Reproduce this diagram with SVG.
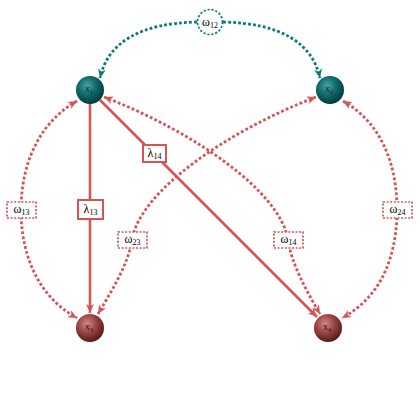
<svg xmlns="http://www.w3.org/2000/svg" width="420" height="420" viewBox="0 0 420 420">
<defs>
<radialGradient id="gT" cx="0.4" cy="0.35" r="0.65">
<stop offset="0" stop-color="#4aa3a3"/><stop offset="0.5" stop-color="#0f6a6a"/><stop offset="1" stop-color="#023c3c"/>
</radialGradient>
<radialGradient id="gR" cx="0.4" cy="0.35" r="0.65">
<stop offset="0" stop-color="#d08a8a"/><stop offset="0.5" stop-color="#9c4545"/><stop offset="1" stop-color="#5a1a1a"/>
</radialGradient>
<marker id="aR" markerUnits="userSpaceOnUse" markerWidth="12" markerHeight="10" refX="9" refY="4" orient="auto-start-reverse" viewBox="0 0 12 10">
<path d="M0,0 L9,4 L0,8 L2.5,4 z" fill="#d35555"/>
</marker>
<marker id="aT" markerUnits="userSpaceOnUse" markerWidth="12" markerHeight="10" refX="9" refY="4" orient="auto-start-reverse" viewBox="0 0 12 10">
<path d="M0,0 L9,4 L0,8 L2.5,4 z" fill="#0a7a7a"/>
</marker>
</defs>
<style>
.dr{fill:none;stroke:#d35555;stroke-width:2.8;stroke-dasharray:2.8 2.2}
.dt{fill:none;stroke:#0a7a7a;stroke-width:2.8;stroke-dasharray:2.8 2.2}
.sr{fill:none;stroke:#d35555;stroke-width:2.6}
.lb{fill:#fff;stroke:#d35555;stroke-width:1.7;stroke-dasharray:2 1.6}
.ls{fill:#fff;stroke:#d35555;stroke-width:2}
.lc{fill:#fff;stroke:#0a7a7a;stroke-width:1.7;stroke-dasharray:2.2 1.8}
.t{font-family:"Liberation Serif","DejaVu Serif",serif;fill:#000;text-anchor:middle}
.tl{font-size:12px}
.tn{font-size:10px;fill:#0b1c1c}
</style>
<g id="connectors">
<path class="dt" d="M197,22 Q112,24 100,78" marker-end="url(#aT)"/>
<path class="dt" d="M223,22 Q308,24 320,78" marker-end="url(#aT)"/>
<path class="dr" d="M77,101 C35,125 21,170 21,210 C21,250 35,295 77,318" marker-start="url(#aR)" marker-end="url(#aR)"/>
<path class="dr" d="M343,101 C385,125 397,170 397,210 C397,250 385,295 342,318" marker-start="url(#aR)" marker-end="url(#aR)"/>
<path class="dr" d="M316,97 C230,130 140,190 132,240 C128,265 112,290 98,314" marker-start="url(#aR)" marker-end="url(#aR)"/>
<path class="dr" d="M104,97 C190,130 280,190 288,240 C292,265 306,290 320,314" marker-start="url(#aR)" marker-end="url(#aR)"/>
<path class="sr" d="M90,104 L90,313" marker-end="url(#aR)"/>
<path class="sr" d="M100,100 L317,317" marker-end="url(#aR)"/>
</g>
<g id="w12"><circle class="lc" cx="210" cy="22" r="12.5"/><text class="t tl" x="210" y="26">ω<tspan font-size="8" dy="2">12</tspan></text></g>
<g id="w13"><rect class="lb" x="7" y="202" width="29" height="16"/><text class="t tl" x="21.5" y="213">ω<tspan font-size="8" dy="2">13</tspan></text></g>
<g id="w24"><rect class="lb" x="383" y="202" width="29" height="16"/><text class="t tl" x="397.5" y="213">ω<tspan font-size="8" dy="2">24</tspan></text></g>
<g id="w23"><rect class="lb" x="118" y="232" width="29" height="16"/><text class="t tl" x="132.5" y="243">ω<tspan font-size="8" dy="2">23</tspan></text></g>
<g id="w14"><rect class="lb" x="274" y="232" width="29" height="16"/><text class="t tl" x="288.5" y="243">ω<tspan font-size="8" dy="2">14</tspan></text></g>
<g id="l13"><rect class="ls" x="78" y="200" width="25" height="19"/><text class="t tl" x="90.5" y="213">λ<tspan font-size="8" dy="2">13</tspan></text></g>
<g id="l14"><rect class="ls" x="143" y="145" width="23" height="17"/><text class="t tl" x="154.5" y="157">λ<tspan font-size="8" dy="2">14</tspan></text></g>
<g id="x1"><circle cx="90" cy="90" r="14" fill="url(#gT)"/><text class="t tn" x="89" y="92">x<tspan font-size="6" dy="2">1</tspan></text></g>
<g id="x2"><circle cx="330" cy="90" r="14" fill="url(#gT)"/><text class="t tn" x="329" y="92">x<tspan font-size="6" dy="2">2</tspan></text></g>
<g id="x3"><circle cx="90" cy="328" r="14" fill="url(#gR)"/><text class="t tn" x="89" y="330" style="fill:#2a0a0a">x<tspan font-size="6" dy="2">3</tspan></text></g>
<g id="x4"><circle cx="328" cy="328" r="14" fill="url(#gR)"/><text class="t tn" x="327" y="330" style="fill:#2a0a0a">x<tspan font-size="6" dy="2">4</tspan></text></g>
</svg>
